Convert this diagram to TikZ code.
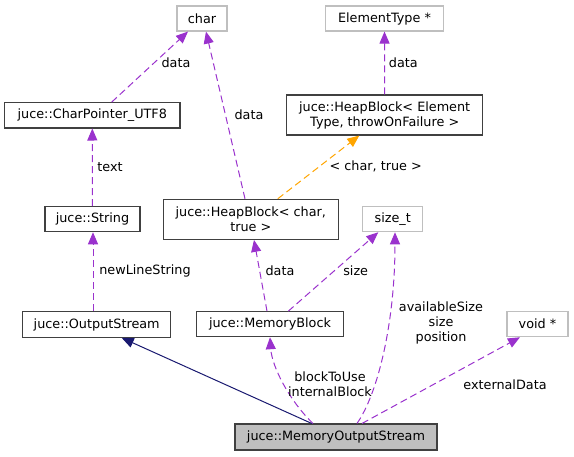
\documentclass[tikz,border=0pt]{standalone}
\usepackage{fontspec}
\setmainfont{DejaVu Sans}
\usetikzlibrary{arrows.meta,calc}
\definecolor{edgepurple}{HTML}{9A32CD}
\definecolor{edgeorange}{HTML}{FFA500}
\definecolor{edgenavy}{HTML}{191970}
\definecolor{boxgray}{HTML}{BFBFBF}
\definecolor{boxdark}{HTML}{404040}
\tikzset{
  every node/.style={font=\fontsize{12.8}{15}\selectfont, inner sep=0pt, align=center},
  cls/.style={draw=boxdark, line width=1.1pt, fill=white},
  ext/.style={draw=boxgray, line width=1.1pt, fill=white},
  cur/.style={draw=boxdark, line width=1.1pt, fill=boxgray},
  tip/.style={-{Triangle[length=12pt,width=10pt]}},
  usage/.style={tip, draw=edgepurple, line width=1pt, dash pattern=on 7pt off 4pt},
  tmpl/.style={tip, draw=edgeorange, line width=1pt, dash pattern=on 7pt off 4pt},
  inherit/.style={tip, draw=edgenavy, line width=1pt},
  lbl/.style={fill=none}
}
\begin{document}
\begin{tikzpicture}[x=1pt,y=-1pt]
\useasboundingbox (0,0) rectangle (574,456);
% nodes
\node[ext, minimum width=50pt, minimum height=25pt] (char) at (202,18.5) {char};
\node[ext, minimum width=117.6pt, minimum height=25pt] (et) at (384.5,18.5) {ElementType *};
\node[cls, minimum width=175.3pt, minimum height=25.3pt] (cp) at (92.3,115.3) {juce::CharPointer\_UTF8};
\node[cls, minimum width=196pt, minimum height=40pt] (hbet) at (384.7,115) {juce::HeapBlock< Element\\Type, throwOnFailure >};
\node[cls, minimum width=95pt, minimum height=25pt] (str) at (92.5,219.2) {juce::String};
\node[cls, minimum width=175pt, minimum height=40pt] (hb) at (250.8,219.3) {juce::HeapBlock< char,\\true >};
\node[ext, minimum width=60pt, minimum height=25pt] (sizet) at (392.7,219.2) {size\_t};
\node[cls, minimum width=148pt, minimum height=25.6pt] (os) at (96.7,324.5) {juce::OutputStream};
\node[cls, minimum width=146.6pt, minimum height=25pt] (mb) at (270,324.2) {juce::MemoryBlock};
\node[ext, minimum width=61pt, minimum height=25pt] (void) at (537.5,324.2) {void *};
\node[cur, minimum width=202pt, minimum height=26pt] (mos) at (336,437) {juce::MemoryOutputStream};
% connectors
\draw[usage] ($(cp.north)+(19.4,0)$) -- ($(char.south)+(-14,0)$);
\draw[usage] ($(hb.north)+(-5.8,0)$) -- ($(char.south)+(4,0)$);
\draw[usage] (hbet.north) -- (et.south);
\draw[tmpl] ($(hb.north)+(27,0)$) -- ($(hbet.south)+(-25.4,0)$);
\draw[usage] (str.north) -- (cp.south);
\draw[usage] ($(os.north)+(-3.7,0)$) -- ($(str.south)+(0.5,0)$);
\draw[usage] ($(mb.north)+(-3,0)$) -- ($(hb.south)+(3.2,0)$);
\draw[usage] ($(mb.north)+(18.3,0)$) -- ($(sizet.south)+(-14.4,0)$);
\draw[inherit] ($(mos.north)+(-24.3,0)$) -- ($(os.south)+(25,0)$);
\draw[usage] ($(mos.north)+(-23,0)$) .. controls ($(mos.north)+(-46,-22)$) and ($(mb.south)+(2,30)$) .. (mb.south);
\draw[usage] ($(mos.north)+(21,0)$) .. controls ($(mos.north)+(42,-30)$) and ($(sizet.south)+(2.3,90)$) .. ($(sizet.south)+(2.3,0)$);
\draw[usage] ($(mos.north)+(26,0)$) -- ($(void.south)+(-17.5,0)$);
% labels
\node[lbl] (l1) at (176,62.3) {data};
\node[lbl] (l2) at (249,114.3) {data};
\node[lbl] (l3) at (403.3,62.7) {data};
\node[lbl] (l4) at (375.7,166) {< char, true >};
\node[lbl] (l5) at (110,166.7) {text};
\node[lbl] (l6) at (145,271) {newLineString};
\node[lbl] (l7) at (280,271) {data};
\node[lbl] (l8) at (355.7,271) {size};
\node[lbl] (l9) at (330,384) {blockToUse\\internalBlock};
\node[lbl] (l10) at (441,323) {availableSize\\size\\position};
\node[lbl] (l11) at (505,385) {externalData};
\end{tikzpicture}
\end{document}
